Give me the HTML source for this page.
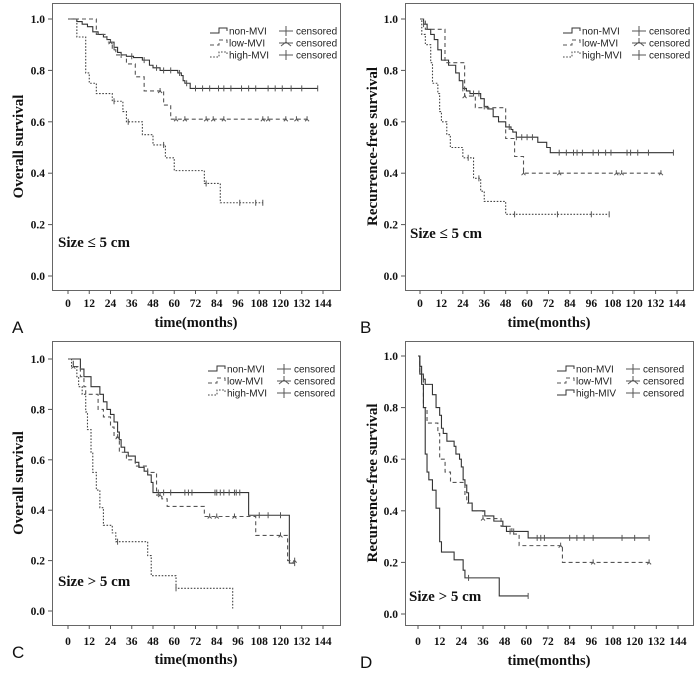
<!DOCTYPE html>
<html><head><meta charset="utf-8"><style>
html,body{margin:0;padding:0;background:#fff;}
svg{display:block;}
.tk{font-family:"Liberation Serif",serif;font-weight:bold;font-size:11.5px;fill:#111;}
.yt{font-family:"Liberation Serif",serif;font-weight:bold;font-size:15px;fill:#111;}
.xt{font-family:"Liberation Serif",serif;font-weight:bold;font-size:14.5px;fill:#111;}
.sz{font-family:"Liberation Serif","DejaVu Serif",serif;font-weight:bold;font-size:15px;fill:#111;}
.lg{font-family:"Liberation Sans",sans-serif;font-size:10px;fill:#222;}
.pl{font-family:"Liberation Sans",sans-serif;font-size:17px;fill:#111;}
</style></head><body>
<svg id="fig" width="700" height="676" viewBox="0 0 700 676" xmlns="http://www.w3.org/2000/svg"></svg>
<script>
// x ticks (months)
const xTicks=[0,12,24,36,48,60,72,84,96,108,120,132,144];
const yTicks=[0,0.2,0.4,0.6,0.8,1.0];
// Panel A – overall survival, size <= 5 cm : [time, survival]
const aNon=[[0,1],[5,0.99],[8,0.98],[11,0.97],[14,0.95],[17,0.94],[20,0.93],[22,0.92],[24,0.91],[26,0.89],[28,0.87],[30,0.86],[33,0.855],[37,0.85],[42,0.84],[46,0.82],[48,0.81],[52,0.80],[62,0.79],[64,0.78],[65,0.76],[66,0.75],[69,0.73],[141,0.73]];
const aLow=[[0,1],[16,0.94],[22,0.91],[25,0.88],[27,0.86],[33,0.825],[38,0.775],[43,0.72],[54,0.665],[58,0.61],[135,0.61]];
const aHigh=[[0,1],[5,0.93],[10,0.79],[12,0.75],[16,0.71],[25,0.68],[31,0.64],[33,0.60],[42,0.55],[48,0.51],[55,0.46],[60,0.41],[77,0.36],[86,0.285],[110,0.285]];
const aNonC=[26,30,36,43,50,54,58,63,67,72,76,80,85,88,92,98,102,106,113,117,121,126,132,141];
const aLowC=[24,52,61,66,78,82,88,110,113,123,129,135];
const aHighC=[26,34,54,78,97,106,110];
// Panel B – recurrence-free, size <= 5 cm
const bNon=[[0,1],[2,0.98],[4,0.96],[6,0.94],[8,0.92],[10,0.88],[12,0.84],[16,0.82],[20,0.79],[22,0.76],[24,0.73],[26,0.72],[28,0.71],[34,0.69],[36,0.66],[38,0.65],[41,0.62],[44,0.60],[48,0.58],[51,0.57],[52,0.56],[54,0.54],[66,0.52],[71,0.50],[73,0.48],[142,0.48]];
const bLow=[[0,1],[3,0.96],[14,0.83],[25,0.70],[31,0.655],[48,0.535],[53,0.465],[58,0.40],[135,0.40]];
const bHigh=[[0,1],[1,0.94],[3,0.90],[6,0.83],[7,0.75],[10,0.71],[11,0.64],[12,0.60],[15,0.55],[17,0.50],[24,0.46],[30,0.38],[34,0.33],[36,0.29],[48,0.24],[106,0.24]];
const bNonC=[2,24,30,33,36,50,54,57,60,63,78,82,86,88,91,97,100,104,107,116,118,122,128,142];
const bLowC=[25,58,78,110,113,135];
const bHighC=[27,33,53,77,96,106];
// Panel C – overall survival, size > 5 cm
const cNon=[[0,1],[7,0.96],[9,0.93],[13,0.89],[18,0.86],[20,0.83],[22,0.80],[24,0.78],[26,0.75],[28,0.71],[29,0.68],[30,0.65],[32,0.63],[34,0.615],[38,0.59],[40,0.57],[43,0.555],[45,0.54],[47,0.51],[48,0.47],[102,0.38],[125,0.19],[128,0.19]];
const cLow=[[0,1],[3,0.97],[7,0.93],[9,0.89],[10,0.86],[17,0.80],[20,0.77],[24,0.73],[26,0.69],[29,0.63],[33,0.60],[38,0.575],[45,0.55],[50,0.46],[53,0.445],[56,0.415],[77,0.375],[106,0.30],[124,0.20],[128,0.20]];
const cHigh=[[0,1],[2,0.97],[5,0.93],[6,0.89],[8,0.86],[10,0.79],[11,0.72],[13,0.63],[14,0.55],[16,0.48],[18,0.41],[20,0.34],[25,0.31],[27,0.275],[45,0.22],[47,0.14],[61,0.09],[93,0.01]];
const cNonC=[51,54,58,66,68,70,83,84,86,88,91,94,95,97,108,113,120,128];
const cLowC=[3,28,52,80,84,94,120,128];
const cHighC=[28,61];
// Panel D – recurrence-free, size > 5 cm
const dNon=[[0,1],[1,0.96],[2,0.93],[3,0.91],[4,0.89],[8,0.85],[10,0.80],[12,0.77],[13,0.72],[14,0.70],[16,0.67],[20,0.65],[21,0.62],[23,0.60],[24,0.57],[25,0.52],[26,0.50],[27,0.47],[28,0.43],[30,0.40],[37,0.38],[42,0.36],[47,0.34],[49,0.32],[61,0.295],[128,0.295]];
const dLow=[[0,1],[1,0.93],[3,0.80],[5,0.74],[11,0.70],[12,0.60],[15,0.55],[18,0.51],[26,0.46],[27,0.43],[30,0.40],[36,0.37],[46,0.34],[52,0.31],[56,0.265],[80,0.20],[128,0.20]];
const dHigh=[[0,1],[1,0.93],[2,0.89],[3,0.80],[4,0.62],[5,0.55],[6,0.52],[8,0.48],[10,0.41],[12,0.28],[13,0.24],[20,0.21],[25,0.17],[26,0.14],[45,0.07],[61,0.07]];
const dNonC=[51,53,66,68,70,84,88,92,97,113,120,128];
const dLowC=[36,79,97,128];
const dHighC=[28,61];

const NS='http://www.w3.org/2000/svg';
const svg=document.getElementById('fig');
function mk(tag,attrs,parent){const e=document.createElementNS(NS,tag);for(const k in attrs)e.setAttribute(k,attrs[k]);(parent||svg).appendChild(e);return e;}

const panels=[
 {id:'a',letter:'A',box:[52,3,340,290],x0:68,x144:323,y1:19,y0:276,ylab:'Overall survival',ytx:18,yLabX:45,tickY:303,titleY:327,letX:12,letY:333,size:'Size ≤ 5 cm',szX:58,szY:247,leg:[210,31],legend:['non-MVI','low-MVI','high-MVI'],series:[aNon,aLow,aHigh],cens:[aNonC,aLowC,aHighC]},
 {id:'b',letter:'B',box:[405,3,693,290],x0:420,x144:677,y1:19,y0:276,ylab:'Recurrence-free survival',ytx:372,yLabX:398,tickY:303,titleY:327,letX:360,letY:333,size:'Size ≤ 5 cm',szX:410,szY:238,leg:[563,31],legend:['non-MVI','low-MVI','high-MVI'],series:[bNon,bLow,bHigh],cens:[bNonC,bLowC,bHighC]},
 {id:'c',letter:'C',box:[52,341,340,625],x0:68,x144:323,y1:359,y0:611,ylab:'Overall survival',ytx:18,yLabX:45,tickY:641,titleY:664,letX:12,letY:658,size:'Size > 5 cm',szX:58,szY:586,leg:[208,369],legend:['non-MVI','low-MVI','high-MVI'],series:[cNon,cLow,cHigh],cens:[cNonC,cLowC,cHighC]},
 {id:'d',letter:'D',box:[405,341,693,625],x0:418,x144:678,y1:356,y0:614,ylab:'Recurrence-free survival',ytx:372,yLabX:398,tickY:641,titleY:665,letX:360,letY:668,size:'Size > 5 cm',szX:409,szY:601,leg:[557,369],legend:['non-MVI','low-MVI','high-MIV'],series:[dNon,dLow,dHigh],cens:[dNonC,dLowC,dHighC]}
];
const styles=[{dash:'',col:'#333'},{dash:'4,3',col:'#555'},{dash:'1.6,1.6',col:'#444'}];

panels.forEach(p=>{
 const g=mk('g',{});
 
 
 const X=t=>p.x0+(p.x144-p.x0)*t/144;
 const Y=v=>p.y0+(p.y1-p.y0)*v;
 const [l,t,r,b]=p.box;
 const fr=mk('rect',{x:l+0.5,y:t+0.5,width:r-l,height:b-t,fill:'none',stroke:'#666','stroke-width':1},g);
 
 
 xTicks.forEach(v=>{
  mk('line',{x1:X(v),x2:X(v),y1:b,y2:b+4,stroke:'#555'},g);
  const tx=mk('text',{x:X(v),y:p.tickY+4,'text-anchor':'middle',class:'tk'},g);tx.textContent=v;
  
  
 });
 yTicks.forEach(v=>{
  mk('line',{x1:l-4,x2:l,y1:Y(v),y2:Y(v),stroke:'#555'},g);
  const tx=mk('text',{x:p.yLabX,y:Y(v)+4,'text-anchor':'end',class:'tk'},g);tx.textContent=v.toFixed(1);
  
  
 });
 const yt=mk('text',{x:p.ytx,y:(t+b)/2,'text-anchor':'middle',class:'yt',transform:`rotate(-90 ${p.ytx} ${(t+b)/2})`,dy:5},g);
 yt.textContent=p.ylab;
 
 
 const xt=mk('text',{x:(l+r)/2,y:p.titleY,'text-anchor':'middle',class:'xt'},g);
 xt.textContent='time(months)';
 
 
 const lt=mk('text',{x:p.letX,y:p.letY,class:'pl'},g);
 lt.textContent=p.letter;
 
 
 const sz=mk('text',{x:p.szX,y:p.szY,class:'sz'},g);
 sz.textContent=p.size;
 
 
 p.series.forEach((s,i)=>{
  let st=styles[i]; if(p.id==='d'&&i===2) st=styles[0];
  let d='M'+X(s[0][0])+','+Y(s[0][1]);
  for(let k=1;k<s.length;k++){d+=' H'+X(s[k][0])+' V'+Y(s[k][1]);}
  const path=mk('path',{d:d,fill:'none',stroke:st.col,'stroke-width':1.1,'stroke-dasharray':st.dash},g);
  
  
  p.cens[i].forEach(ct=>{
   let v=s[0][1];for(const q of s){if(q[0]<=ct)v=q[1];}
   const cx=X(ct),cy=Y(v);
   const m=mk('path',{d:i===1?`M${cx-2},${cy+2} L${cx},${cy} L${cx+2},${cy+2} M${cx},${cy} V${cy-3}`:`M${cx},${cy-3} V${cy+3}`,stroke:'#555','stroke-width':1,fill:'none'},g);
   
   
  });
 });
 const [lx,ly]=p.leg;
 p.legend.forEach((name,i)=>{
  let st=styles[i]; if(p.id==='d'&&i===2) st=styles[0];
  const yy=ly+i*12;
  const e=mk('g',{},g);
  
  
  mk('path',{d:`M${lx},${yy+2} H${lx+9} V${yy-3} H${lx+17} V${yy}`,fill:'none',stroke:st.col,'stroke-dasharray':st.dash},e);
  const t1=mk('text',{x:lx+19,y:yy+3.5,class:'lg'},e);t1.textContent=name;
  const cx=lx+69;
  mk('line',{x1:cx,x2:cx+14,y1:yy,y2:yy,stroke:'#555'},e);
  if(i===1)mk('path',{d:`M${cx+2},${yy+3} L${cx+7},${yy-1} L${cx+12},${yy+3} M${cx+7},${yy-1} V${yy-5}`,fill:'none',stroke:'#555'},e);
  else mk('line',{x1:cx+7,x2:cx+7,y1:yy-5,y2:yy+5,stroke:'#555'},e);
  const t2=mk('text',{x:cx+17,y:yy+3.5,class:'lg'},e);t2.textContent='censored';
 });
});
</script>
</body></html>
